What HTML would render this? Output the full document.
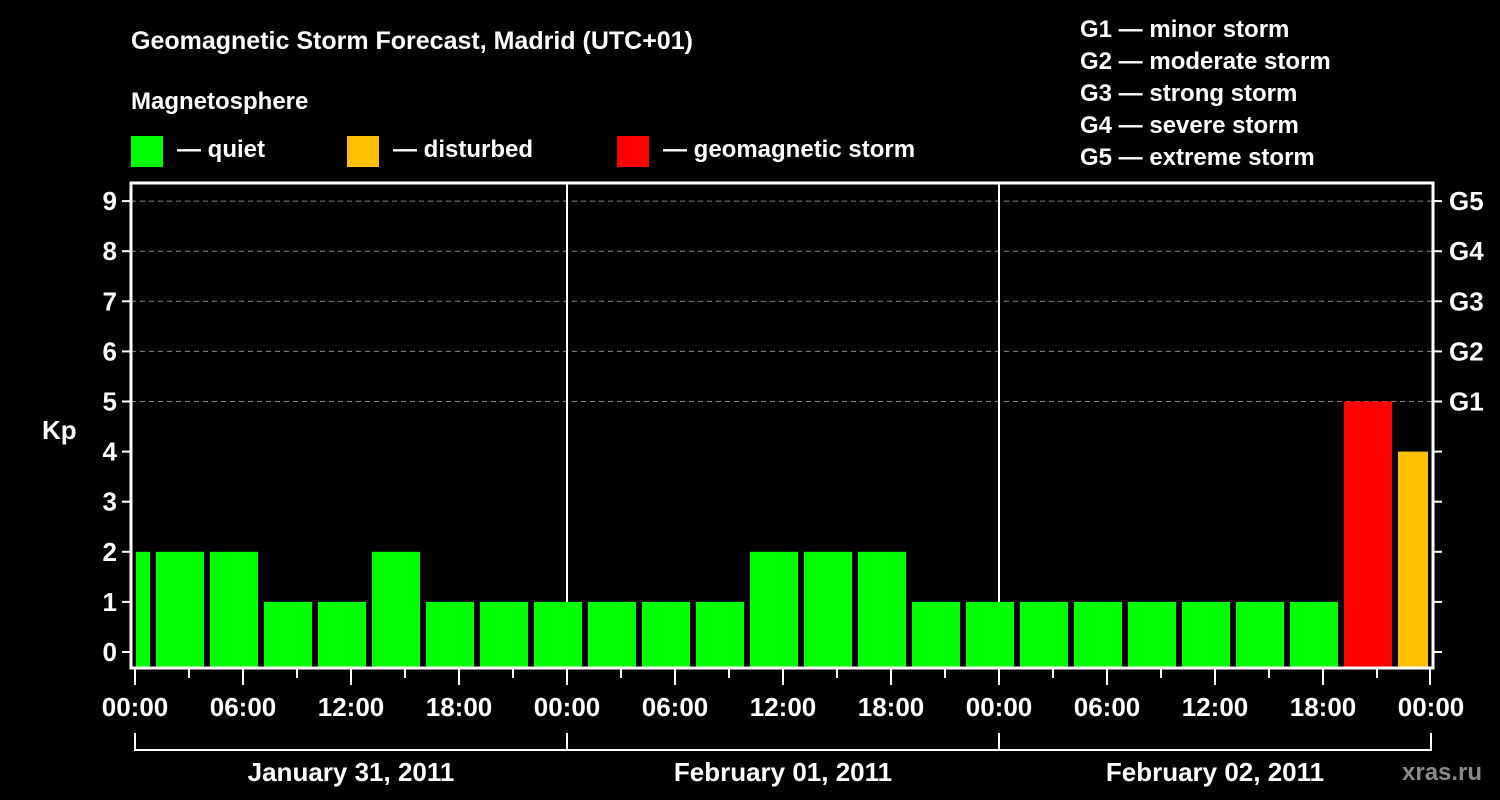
<!DOCTYPE html>
<html><head><meta charset="utf-8"><style>
body{margin:0;background:#000;width:1500px;height:800px;overflow:hidden}
svg{display:block}
text{font-family:"Liberation Sans",Arial,sans-serif;font-weight:bold;fill:#fff}
</style></head><body>
<svg id="chart" width="1500" height="800">
<text x="131" y="49" font-size="25">Geomagnetic Storm Forecast, Madrid (UTC+01)</text>
<text x="131" y="109" font-size="24">Magnetosphere</text>
<rect x="131" y="136" width="32" height="31" fill="#00ff00"/>
<text x="177" y="157" font-size="24">— quiet</text>
<rect x="347" y="136" width="32" height="31" fill="#ffc000"/>
<text x="393" y="157" font-size="24">— disturbed</text>
<rect x="617" y="136" width="32" height="31" fill="#ff0000"/>
<text x="663" y="157" font-size="24">— geomagnetic storm</text>
<g font-size="24">
<text x="1080" y="37">G1 — minor storm</text>
<text x="1080" y="69">G2 — moderate storm</text>
<text x="1080" y="101">G3 — strong storm</text>
<text x="1080" y="133">G4 — severe storm</text>
<text x="1080" y="165">G5 — extreme storm</text>
</g>
<text x="42" y="439" font-size="26">Kp</text>
<text x="1402" y="780" font-size="24" fill="#888" style="fill:#8a8a8a">xras.ru</text>
<g id="grid"></g><g id="bars"></g><g id="axes"></g>
</svg>
<script>
const values=[2,2,2,1,1,2,1,1,1,1,1,1,2,2,2,1,1,1,1,1,1,1,1,5,4];
const slotStartHours=[-2.1667,0.8333,3.8333,6.8333,9.8333,12.8333,15.8333,18.8333,21.8333,24.8333,27.8333,30.8333,33.8333,36.8333,39.8333,42.8333,45.8333,48.8333,51.8333,54.8333,57.8333,60.8333,63.8333,66.8333,69.8333];
const yTicks=[0,1,2,3,4,5,6,7,8,9];
const gLabels=["G1","G2","G3","G4","G5"];
const xTickLabels=["00:00","06:00","12:00","18:00","00:00","06:00","12:00","18:00","00:00","06:00","12:00","18:00","00:00"];
const dayLabels=["January 31, 2011","February 01, 2011","February 02, 2011"];
const NS="http://www.w3.org/2000/svg";
const X0=135,PX_H=18,Y0=652,PX_K=50.1,L=131,R=1433,T=183,B=668;
const xs=h=>X0+h*PX_H, ys=k=>Y0-k*PX_K;
function mk(tag,attrs,parent){const e=document.createElementNS(NS,tag);for(const k in attrs)e.setAttribute(k,attrs[k]);document.getElementById(parent).appendChild(e);return e;}
yTicks.forEach(k=>{if(k>=5){const l=mk('line',{x1:L,x2:R,y1:ys(k),y2:ys(k),stroke:'#888','stroke-dasharray':'5,4','stroke-width':1},'grid');

}});
[24,48].forEach(h=>{const l=mk('line',{x1:xs(h),x2:xs(h),y1:T,y2:B,stroke:'#fff','stroke-width':2},'grid');

});
values.forEach((v,i)=>{
 let x1=xs(slotStartHours[i])+6, x2=xs(slotStartHours[i]+3);
 x1=Math.max(x1,L+5); x2=Math.min(x2,R-5);
 const col=v>=5?'#ff0000':(v>=4?'#ffc000':'#00ff00');
 const r=mk('rect',{x:x1,y:ys(v),width:x2-x1,height:B-1-ys(v),fill:col},'bars');
 
 
});
const f=mk('rect',{x:L,y:T,width:R-L,height:B-T,fill:'none',stroke:'#fff','stroke-width':3},'axes');


yTicks.forEach(k=>{
 mk('line',{x1:L-9,x2:L,y1:ys(k),y2:ys(k),stroke:'#fff','stroke-width':2},'axes');
 mk('line',{x1:R,x2:R+9,y1:ys(k),y2:ys(k),stroke:'#fff','stroke-width':2},'axes');
 const t=mk('text',{x:L-14,y:ys(k)+9,'font-size':26,'text-anchor':'end'},'axes');t.textContent=k;
 
 
});
gLabels.forEach((g,i)=>{const t=mk('text',{x:R+16,y:ys(5+i)+9,'font-size':26},'axes');t.textContent=g;
 
 });
for(let h=0;h<=72;h+=3){const major=h%6===0;const x=Math.min(xs(h),R-3);
 mk('line',{x1:x,x2:x,y1:B,y2:B+(major?17:10),stroke:'#fff','stroke-width':2},'axes');}
xTickLabels.forEach((s,i)=>{const t=mk('text',{x:xs(i*6),y:716,'font-size':26,'text-anchor':'middle'},'axes');t.textContent=s;
 
 });
mk('line',{x1:xs(0),x2:xs(72),y1:750,y2:750,stroke:'#fff','stroke-width':2},'axes');
[0,24,48,72].forEach(h=>mk('line',{x1:xs(h),x2:xs(h),y1:733,y2:751,stroke:'#fff','stroke-width':2},'axes'));
dayLabels.forEach((s,i)=>{const t=mk('text',{x:xs(i*24+12),y:781,'font-size':26,'text-anchor':'middle'},'axes');t.textContent=s;
 
 });
</script>
</body></html>
